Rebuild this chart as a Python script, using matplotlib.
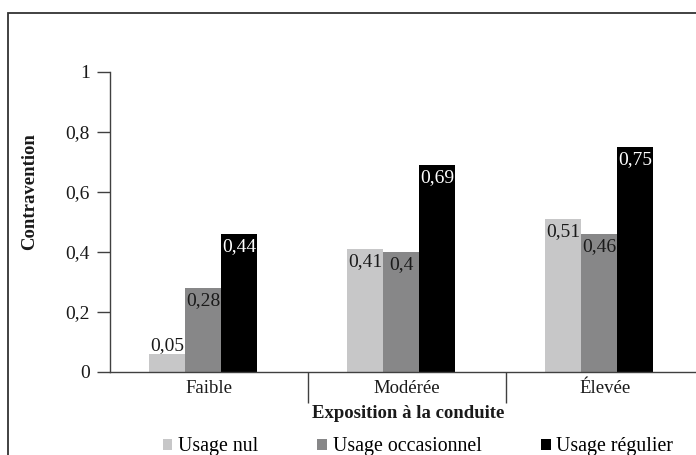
import matplotlib
matplotlib.use('Agg')
import matplotlib.pyplot as plt
from matplotlib.patches import Rectangle
import numpy as np

# Data
categories = ['Faible', 'Modérée', 'Élevée']
series = ['Usage nul', 'Usage occasionnel', 'Usage régulier']
heights_nul = [0.06, 0.41, 0.51]
heights_occ = [0.28, 0.40, 0.46]
heights_reg = [0.46, 0.69, 0.75]
labels_nul = ['0,05', '0,41', '0,51']
labels_occ = ['0,28', '0,4', '0,46']
labels_reg = ['0,44', '0,69', '0,75']
yticks = [0, 0.2, 0.4, 0.6, 0.8, 1]
ytick_labels = ['0', '0,2', '0,4', '0,6', '0,8', '1']

colors = ['#C7C7C8', '#878788', '#000000']
text_colors = ['#1a1a1a', '#1a1a1a', '#ffffff']
axis_color = '#404040'

plt.rcParams['font.family'] = ['Liberation Serif', 'DejaVu Serif']

W, H = 696, 455
fig = plt.figure(figsize=(W / 100, H / 100), dpi=100)

# figure frame (runs off the right and bottom edges in the reference)
fig.patches.append(Rectangle((8 / W, -0.1), 1.2, 1.1 - 12.7 / H,
                             transform=fig.transFigure, fill=False,
                             edgecolor='#333333', linewidth=1.3))

ax = fig.add_axes([110 / W, 1 - 372 / H, 594 / W, 300 / H])

x = np.arange(len(categories))
width = 0.182
shift = -0.03
all_heights = [heights_nul, heights_occ, heights_reg]
all_labels = [labels_nul, labels_occ, labels_reg]

for i, (hs, labs) in enumerate(zip(all_heights, all_labels)):
    pos = x + shift + (i - 1) * width
    bars = ax.bar(pos, hs, width=width, color=colors[i], label=series[i],
                  linewidth=0)
    for bar, h, lab in zip(bars, hs, labs):
        cx = bar.get_x() + bar.get_width() / 2
        if h < 0.1:
            # too short: label sits above the bar
            ax.annotate(lab, (cx, h), xytext=(0, 0), textcoords='offset points',
                        ha='center', va='bottom', fontsize=14,
                        color=text_colors[0])
        else:
            ax.annotate(lab, (cx, h), xytext=(0, -3), textcoords='offset points',
                        ha='center', va='top', fontsize=14,
                        color=text_colors[i])

ax.set_xlim(-0.5, 2.5)
ax.set_ylim(0, 1)
ax.set_yticks(yticks)
ax.set_yticklabels(ytick_labels)
ax.set_xticks(x)
ax.set_xticklabels(categories)
ax.set_xticks([0.5, 1.5], minor=True)

ax.tick_params(axis='y', length=9.5, width=1, color=axis_color, pad=5,
               labelsize=14, labelcolor='#1a1a1a')
ax.tick_params(axis='x', which='major', length=0, pad=6, labelsize=13.5,
               labelcolor='#1a1a1a')
ax.tick_params(axis='x', which='minor', length=22, width=1, color=axis_color)

for side in ['top', 'right']:
    ax.spines[side].set_visible(False)
for side in ['left', 'bottom']:
    ax.spines[side].set_color(axis_color)
    ax.spines[side].set_linewidth(1)

fig.text(30 / W, 1 - 192 / H, 'Contravention', rotation=90, ha='center',
         va='center', fontsize=13.5, fontweight='bold', color='#1a1a1a')
fig.text(408 / W, 1 - 414 / H, 'Exposition à la conduite', ha='center',
         va='center', fontsize=13.5, fontweight='bold', color='#1a1a1a')

fig.legend(loc='center', bbox_to_anchor=(418 / W, 1 - 447 / H), ncol=3,
           frameon=False, fontsize=14.3, handlelength=0.5, handleheight=0.5,
           handletextpad=0.3, columnspacing=2.95, borderpad=0)

fig.savefig('out.png', dpi=100)
plt.close(fig)
